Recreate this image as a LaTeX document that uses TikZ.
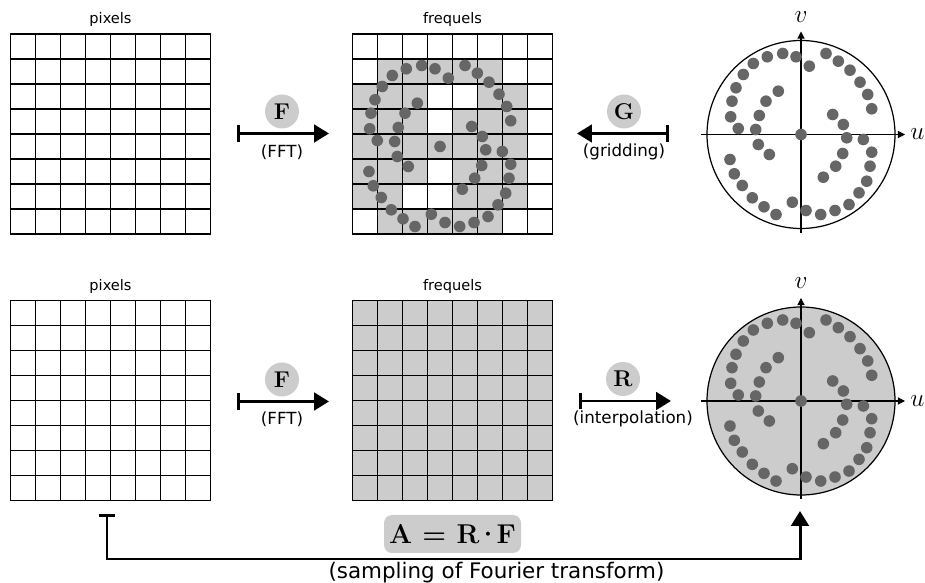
\documentclass[tikz,border=0pt]{standalone}
\usepackage{fontspec}
\usepackage{tikz}
\usetikzlibrary{arrows.meta,positioning,calc}
\newfontfamily\dejavu{DejaVu Sans}
\definecolor{cellGray}{RGB}{204,204,204}
\definecolor{dotGray} {RGB}{102,102,102}

% sample positions in the (u,v) plane, pixel offsets from the centre
\newcommand{\uvdots}{%
  \foreach \dx/\dy in {-5/-77.7, -18.3/-81, -33.7/-77.7, -47.7/-71, -57.7/-60,
      -65/-46.7, -69/-33.3, -70.3/-17.7, -62.7/-6,
      -22.7/-43.3, -35/-33.3, -41.7/-19, -45.3/-5, -42.7/10, -31.7/20,
      -71/25, -66.7/39.3, -58.7/51, -48.7/63.3, -37/72.3, -25/80, -8.7/67.7,
      0/0,
      5/76, 19.7/80, 34/76, 48/70, 58/58.3, 65.7/46.7, 69/31.7, 70.7/17.7, 62.3/5,
      31.7/-20, 42.3/-10, 45.7/3.3, 41.7/19, 34.7/31.7, 22.3/42.7,
      8.3/-68.3, 25/-81, 37.3/-73.3, 49/-64.3, 59/-52.3, 66.7/-40, 70.7/-25.7}{
    \fill[dotGray] (\dx,\dy) circle[radius=5.8];
  }}

\begin{document}
\begin{tikzpicture}[
    gridbox/.style={minimum size=4cm,inner sep=0pt,outer sep=0pt},
    gridline/.style={line width=0.75pt,line cap=rect},
    uvdisk/.style={circle,draw,line width=0.7pt,minimum size=3.76cm,
                   inner sep=0pt,outer sep=0pt},
    uvaxis/.style={line width=0.6pt,-{Triangle[length=4pt,width=4pt]}},
    axlabel/.style={inner sep=0pt,font=\fontsize{13.5}{15}\selectfont},
    oplabel/.style={circle,fill=cellGray,minimum size=0.68cm,inner sep=0pt,
                    font=\bfseries\fontsize{13}{15}\selectfont},
    opcaption/.style={inner sep=0pt,font=\dejavu\fontsize{9.5}{11}\selectfont},
    gridtitle/.style={inner sep=0pt,font=\dejavu\fontsize{8.3}{10}\selectfont},
    bigarrow/.style={line width=1.7pt,
      {Bar[width=9.5pt,line width=1.5pt]}-{Triangle[length=8.5pt,width=10pt]}}
  ]
  \useasboundingbox (0,0) rectangle (18.5,11.66);

  % grids
  \node[gridbox] (pixA) at (2.21,8.98) {};
  \node[gridbox] (freqA) at (9.05,8.98) {};
  \node[gridbox] (pixB) at (2.21,3.65) {};
  \node[gridbox,fill=cellGray] (freqB) at (9.05,3.65) {};

  % frequels hit by a sample
  \foreach \r/\cols in {1/{1,2,3,4,5}, 2/{0,1,2,5,6}, 3/{0,1,2,4,5,6},
      4/{0,1,2,3,4,5,6}, 5/{0,1,2,4,5,6}, 6/{0,1,4,5,6}, 7/{1,2,3,4,5}}{
    \foreach \c in \cols
      \fill[cellGray] ([shift={(\c*0.5,-\r*0.5)}]freqA.north west) rectangle ++(0.5,-0.5);
  }

  \foreach \g in {pixA,freqA,pixB,freqB}{
    \foreach \i in {0,...,8}{
      \draw[gridline] ([xshift=\i*0.5cm]\g.south west) -- ([xshift=\i*0.5cm]\g.north west);
      \draw[gridline] ([yshift=\i*0.5cm]\g.south west) -- ([yshift=\i*0.5cm]\g.south east);
    }
  }

  \begin{scope}[shift={([shift={(1.75,-2.25)}]freqA.north west)},x=0.02cm,y=-0.02cm]
    \uvdots
  \end{scope}

  \node[gridtitle,above=0.14cm of pixA] (pixAtitle) {pixels};
  \node[gridtitle,above=0.14cm of freqA] (freqAtitle) {frequels};
  \node[gridtitle,above=0.14cm of pixB] (pixBtitle) {pixels};
  \node[gridtitle,above=0.14cm of freqB] (freqBtitle) {frequels};

  % (u,v) planes
  \node[uvdisk] (uvA) at (16.02,8.97) {};
  \node[uvdisk,fill=cellGray] (uvB) at (16.02,3.64) {};

  \coordinate (uvAwest) at ([xshift=-2.0cm]uvA.center);
  \coordinate (uvAeast) at ([xshift=2.08cm]uvA.center);
  \coordinate (uvAsouth) at ([yshift=-1.97cm]uvA.center);
  \coordinate (uvAnorth) at ([yshift=2.06cm]uvA.center);
  \draw[uvaxis] (uvAwest) -- (uvAeast);
  \draw[uvaxis] (uvAsouth) -- (uvAnorth);
  \node[axlabel,right=0.1cm of uvAeast] (uA) {$u$};
  \node[axlabel,above=0.18cm of uvAnorth] (vA) {$v$};

  \coordinate (uvBwest) at ([xshift=-2.0cm]uvB.center);
  \coordinate (uvBeast) at ([xshift=2.08cm]uvB.center);
  \coordinate (uvBsouth) at ([yshift=-1.97cm]uvB.center);
  \coordinate (uvBnorth) at ([yshift=2.06cm]uvB.center);
  \draw[uvaxis] (uvBwest) -- (uvBeast);
  \draw[uvaxis] (uvBsouth) -- (uvBnorth);
  \node[axlabel,right=0.1cm of uvBeast] (uB) {$u$};
  \node[axlabel,above=0.18cm of uvBnorth] (vB) {$v$};

  \begin{scope}[shift={(uvA.center)},x=0.02cm,y=-0.02cm]
    \uvdots
  \end{scope}
  \begin{scope}[shift={(uvB.center)},x=0.02cm,y=-0.02cm]
    \uvdots
  \end{scope}

  % operators
  \coordinate (fftAfrom) at (4.74,8.99);
  \coordinate (fftAto) at (6.58,8.99);
  \draw[bigarrow] (fftAfrom) -- (fftAto);
  \node[oplabel] (opFA) at (5.64,9.43) {F};
  \node[opcaption] (capFA) at (5.64,8.62) {(FFT)};

  \coordinate (gridAfrom) at (13.38,8.99);
  \coordinate (gridAto) at (11.54,8.99);
  \draw[bigarrow] (gridAfrom) -- (gridAto);
  \node[oplabel] (opG) at (12.48,9.43) {G};
  \node[opcaption] (capG) at (12.48,8.63) {(gridding)};

  \coordinate (fftBfrom) at (4.74,3.63);
  \coordinate (fftBto) at (6.58,3.63);
  \draw[bigarrow] (fftBfrom) -- (fftBto);
  \node[oplabel] (opFB) at (5.64,4.07) {F};
  \node[opcaption] (capFB) at (5.64,3.27) {(FFT)};

  \coordinate (interpfrom) at (11.58,3.64);
  \coordinate (interpto) at (13.42,3.64);
  \draw[bigarrow] (interpfrom) -- (interpto);
  \node[oplabel] (opR) at (12.46,4.08) {R};
  \node[opcaption] (capR) at (12.66,3.28) {(interpolation)};

  % whole forward model
  \coordinate (sampFrom) at (2.14,1.38);
  \coordinate (sampCorner) at (2.14,0.48);
  \coordinate (sampTo) at (16.0,1.44);
  \draw[bigarrow] (sampFrom) -- (sampCorner) -| (sampTo);
  \node[fill=cellGray,rounded corners=0.16cm,minimum width=2.74cm,minimum height=0.76cm,
        inner sep=0pt,font=\bfseries\fontsize{15.5}{17}\selectfont] (prodA) at (9.05,0.98)
    {A = R\kern-0.12em·\kern-0.12emF};
  \node[inner sep=0pt,font=\dejavu\fontsize{12.2}{14}\selectfont] (sampCap) at (9.93,0.2)
    {(sampling of Fourier transform)};
\end{tikzpicture}
\end{document}
